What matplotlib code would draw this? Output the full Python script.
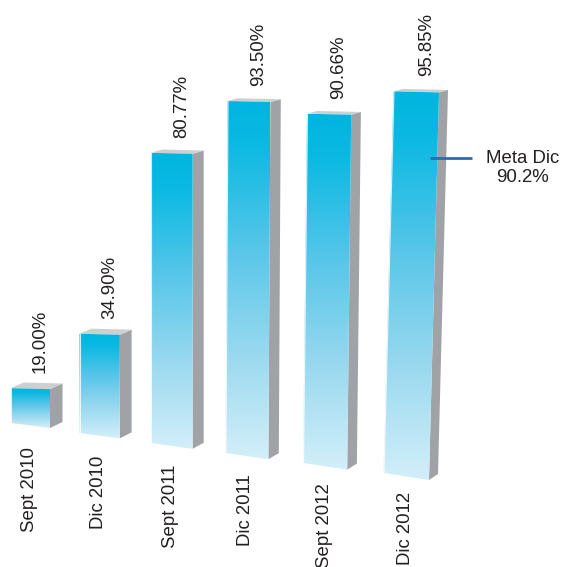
import numpy as np
import matplotlib.pyplot as plt
from matplotlib.patches import Polygon
from matplotlib.colors import LinearSegmentedColormap

plt.rcParams['font.family'] = ['Liberation Sans', 'DejaVu Sans']

# avance de cobertura por periodo
periodos = ["Sept 2010", "Dic 2010", "Sept 2011", "Dic 2011", "Sept 2012", "Dic 2012"]
cobertura = [19.00, 34.90, 80.77, 93.50, 90.66, 95.85]
etiquetas = ["19.00%", "34.90%", "80.77%", "93.50%", "90.66%", "95.85%"]
meta_texto = "Meta Dic\n90.2%"

# perspectiva: las barras arrancan en 10% y crecen hacia la derecha
base = 10.0
inclinacion = [0, 0, 0, 2, 4, 10]

cmap_frente = LinearSegmentedColormap.from_list(
    "frente", [(0.0, "#00b5e0"), (0.12, "#0bb9e2"), (0.4, "#55c5e9"),
               (0.7, "#98d8ef"), (1.0, "#d3eff9")])
gris_lado = "#a0a2a5"
gris_tapa = "#cdcfd1"
texto = "#231f20"


def caja(i, valor):
    x0 = 11 + 67 * i + 1.5 * i ** 2
    yb = 423 + 10 * i
    ancho = 39 + 1.3 * i
    prof = 12.5 - 0.7 * i
    escala = 3.87 + 0.115 * i
    alto = (valor - base) * escala
    yt = yb - alto
    lean = inclinacion[i]
    caida = 5 + 0.4 * i
    sube = 6 - 3.5 * alto / 380.0
    frente = [(x0, yb), (x0 + ancho, yb + caida), (x0 + ancho + lean, yt + 1), (x0 + lean, yt)]
    lado = [(x0 + ancho, yb + caida), (x0 + ancho + prof, yb + caida - 6),
            (x0 + ancho + lean + prof, yt + 1 - sube), (x0 + ancho + lean, yt + 1)]
    tapa = [(x0 + lean, yt), (x0 + ancho + lean, yt + 1),
            (x0 + ancho + lean + prof, yt + 1 - sube), (x0 + lean + prof, yt - sube)]
    return frente, lado, tapa, (x0, ancho, yb, yt, lean, caida)


fig = plt.figure(figsize=(5.61, 5.67), dpi=100)
ax = fig.add_axes([0, 0, 1, 1])
ax.set_xlim(0, 561)
ax.set_ylim(567, 0)
ax.axis('off')

grad = np.linspace(0, 1, 256).reshape(-1, 1)

for i, (per, val, lab) in enumerate(zip(periodos, cobertura, etiquetas)):
    frente, lado, tapa, (x0, ancho, yb, yt, lean, caida) = caja(i, val)

    ax.add_patch(Polygon(lado, closed=True, facecolor=gris_lado, edgecolor='none', zorder=2))
    ax.add_patch(Polygon(tapa, closed=True, facecolor=gris_tapa, edgecolor='none', zorder=2))

    poly = Polygon(frente, closed=True, facecolor='none', edgecolor='none', zorder=3)
    ax.add_patch(poly)
    xs = [p[0] for p in frente]
    ys = [p[1] for p in frente]
    im = ax.imshow(grad, cmap=cmap_frente, aspect='auto', interpolation='bilinear',
                   extent=(min(xs), max(xs), max(ys), min(ys)), zorder=3)
    im.set_clip_path(poly)
    # brillo en la arista izquierda
    ax.plot([x0 + 0.5, x0 + lean + 0.5], [yb, yt], color='white', lw=0.8, alpha=0.8, zorder=4)

    ax.text(x0 + lean + ancho / 2 + 10, yt - 15, lab, rotation=90, ha='center', va='bottom',
            fontsize=13.4, color=texto, zorder=5)
    ax.text(x0 + ancho / 2 - 1, yb + 24 - i, per, rotation=90, ha='center', va='top',
            fontsize=13.4, color=texto, zorder=5)

# meta de diciembre
ax.plot([430, 472], [158, 158], color="#2b6cb3", lw=2, solid_capstyle='butt', zorder=6)
ax.text(523, 168, meta_texto, ha='center', va='center', fontsize=13.4, color=texto,
        linespacing=1.1, zorder=6)

fig.savefig("out.png", dpi=100)
